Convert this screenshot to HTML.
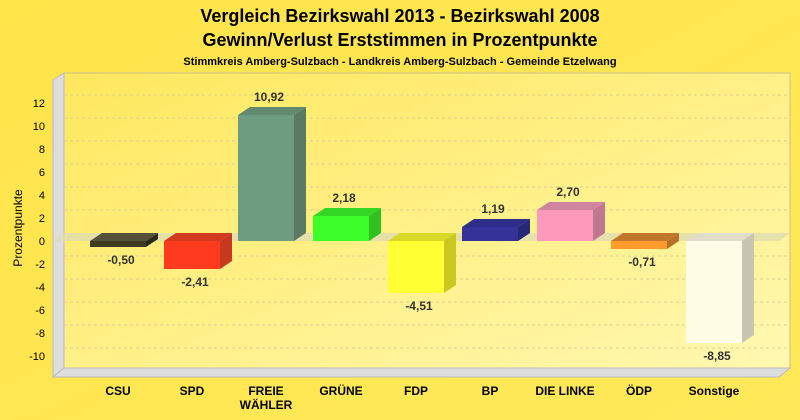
<!DOCTYPE html>
<html><head><meta charset="utf-8"><style>body{margin:0}svg{display:block}</style></head><body>
<svg width="800" height="420" xmlns="http://www.w3.org/2000/svg" font-family="Liberation Sans, sans-serif">
<defs>
<linearGradient id="bg" x1="0" y1="0" x2="1" y2="1"><stop offset="0" stop-color="#ffe44a"/><stop offset="1" stop-color="#ffe95a"/></linearGradient>
<linearGradient id="pl" x1="0" y1="0" x2="1" y2="1"><stop offset="0" stop-color="#ffe85e"/><stop offset="1" stop-color="#fff8b0"/></linearGradient>
</defs>
<rect width="800" height="420" fill="url(#bg)"/>
<text x="400" y="22" font-size="18" font-weight="bold" text-anchor="middle">Vergleich Bezirkswahl 2013 - Bezirkswahl 2008</text>
<text x="400" y="46" font-size="18" font-weight="bold" text-anchor="middle">Gewinn/Verlust Erststimmen in Prozentpunkte</text>
<text x="400" y="65" font-size="11" font-weight="bold" text-anchor="middle">Stimmkreis Amberg-Sulzbach - Landkreis Amberg-Sulzbach - Gemeinde Etzelwang</text>
<rect x="64" y="73" width="726" height="295" fill="url(#pl)" stroke="#c8c090"/>
<polygon points="53,80 64,73 64,368 53,377" fill="#dddddd" stroke="#bbb"/>
<polygon points="53,377 64,368 790,368 779,377" fill="#dddddd" stroke="#bbb"/>
<g stroke="#d8cf90" stroke-dasharray="3,3">
<line x1="64" y1="95" x2="790" y2="95"/><line x1="64" y1="118" x2="790" y2="118"/><line x1="64" y1="141" x2="790" y2="141"/><line x1="64" y1="164" x2="790" y2="164"/><line x1="64" y1="187" x2="790" y2="187"/><line x1="64" y1="210" x2="790" y2="210"/><line x1="64" y1="256" x2="790" y2="256"/><line x1="64" y1="279" x2="790" y2="279"/><line x1="64" y1="302" x2="790" y2="302"/><line x1="64" y1="325" x2="790" y2="325"/><line x1="64" y1="348" x2="790" y2="348"/>
</g>
<polygon points="53,241 64,233 790,233 779,241" fill="#e0dcb0" opacity="0.8"/>
<g font-size="11" text-anchor="end">
<text x="45" y="107">12</text><text x="45" y="130">10</text><text x="45" y="153">8</text><text x="45" y="176">6</text><text x="45" y="199">4</text><text x="45" y="222">2</text><text x="45" y="245">0</text><text x="45" y="268">-2</text><text x="45" y="291">-4</text><text x="45" y="314">-6</text><text x="45" y="337">-8</text><text x="45" y="360">-10</text>
</g>
<text transform="translate(22,228) rotate(-90)" font-size="12" text-anchor="middle">Prozentpunkte</text>

<!-- CSU -->
<polygon points="146,241 158,233 158,239 146,247" fill="#2a2818"/>
<polygon points="90,241 102,233 158,233 146,241" fill="#55523a"/>
<rect x="90" y="241" width="56" height="6" fill="#3d3a22"/>
<!-- SPD -->
<polygon points="220,241 232,233 232,261 220,269" fill="#c83a20"/>
<polygon points="164,241 176,233 232,233 220,241" fill="#d23a20"/>
<rect x="164" y="241" width="56" height="28" fill="#ff3a1f"/>
<!-- FREIE -->
<polygon points="294,115 306,107 306,233 294,241" fill="#5a7a62"/>
<polygon points="238,115 250,107 306,107 294,115" fill="#628a6e"/>
<rect x="238" y="115" width="56" height="126" fill="#6e9c80"/>
<!-- GRÜNE -->
<polygon points="369,216 381,208 381,233 369,241" fill="#30c020"/>
<polygon points="313,216 325,208 381,208 369,216" fill="#34d824"/>
<rect x="313" y="216" width="56" height="25" fill="#3cff2a"/>
<!-- FDP -->
<polygon points="444,241 456,233 456,285 444,293" fill="#c8c820"/>
<polygon points="388,241 400,233 456,233 444,241" fill="#d8d828"/>
<rect x="388" y="241" width="56" height="52" fill="#ffff33"/>
<!-- BP -->
<polygon points="518,227 530,219 530,233 518,241" fill="#282878"/>
<polygon points="462,227 474,219 530,219 518,227" fill="#2e2e8a"/>
<rect x="462" y="227" width="56" height="14" fill="#333399"/>
<!-- LINKE -->
<polygon points="593,210 605,202 605,233 593,241" fill="#c07890"/>
<polygon points="537,210 549,202 605,202 593,210" fill="#d084a0"/>
<rect x="537" y="210" width="56" height="31" fill="#ff99bb"/>
<!-- ÖDP -->
<polygon points="667,241 679,233 679,241 667,249" fill="#b87028"/>
<polygon points="611,241 623,233 679,233 667,241" fill="#c07828"/>
<rect x="611" y="241" width="56" height="8" fill="#ff9b2a"/>
<!-- Sonstige -->
<polygon points="742,241 754,233 754,335 742,343" fill="#c8c6b0"/>
<polygon points="686,241 698,233 754,233 742,241" fill="#e0deca"/>
<rect x="686" y="241" width="56" height="102" fill="#fffde6"/>

<g font-size="12" font-weight="bold" fill="#333" text-anchor="middle">
<text x="121" y="264">-0,50</text><text x="195" y="286">-2,41</text><text x="269" y="101">10,92</text><text x="344" y="202">2,18</text><text x="419" y="310">-4,51</text><text x="493" y="213">1,19</text><text x="568" y="196">2,70</text><text x="642" y="266">-0,71</text><text x="717" y="360">-8,85</text>
</g>
<g font-size="12" font-weight="bold" text-anchor="middle">
<text x="118" y="395">CSU</text><text x="192" y="395">SPD</text><text x="266" y="395">FREIE</text><text x="266" y="409">WÄHLER</text><text x="341" y="395">GRÜNE</text><text x="416" y="395">FDP</text><text x="490" y="395">BP</text><text x="565" y="395">DIE LINKE</text><text x="639" y="395">ÖDP</text><text x="714" y="395">Sonstige</text>
</g>
</svg>
</body></html>
